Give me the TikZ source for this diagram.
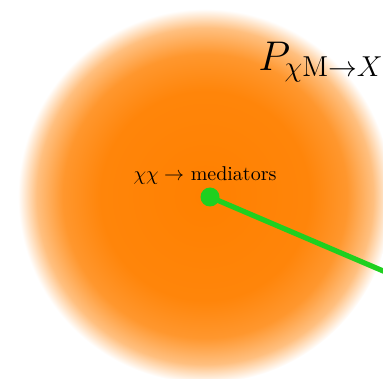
\documentclass[tikz,border=0pt]{standalone}
\usepackage{tikz}
\usepackage{amsmath}
\usetikzlibrary{positioning,calc}
\definecolor{glow}{HTML}{FF8000}
\definecolor{beam}{HTML}{1FD01F}
\pgfdeclareradialshading{halo}{\pgfpoint{0bp}{0bp}}{%
  color(0bp)=(glow); color(14bp)=(glow!96!white); color(19bp)=(glow!82!white);
  color(22.5bp)=(glow!50!white); color(25bp)=(white); color(50bp)=(white)}

\begin{document}
\begin{tikzpicture}[x=0.5pt,y=-0.5pt]
        \clip (0,0) rectangle (383,378);
        \useasboundingbox (0,0) rectangle (383,378);
        % the annihilation region
        \shade[shading=halo] (205,196) circle[radius=187];
        \node[font=\huge, inner sep=0pt] (prob) at (321,62)
          {$P_{\chi\mathrm{M}\to X}$};
        \node[inner sep=0pt] (ann) at (205,176)
          {$\chi\chi\to$ mediators};
        \node[circle, fill=beam, minimum size=9.5pt, inner sep=0pt] (src) at (210,197) {};
        \coordinate (exit) at (430,291);
        \draw[beam, line width=2.6pt] (src.center) -- (exit);
      \end{tikzpicture}
\end{document}
